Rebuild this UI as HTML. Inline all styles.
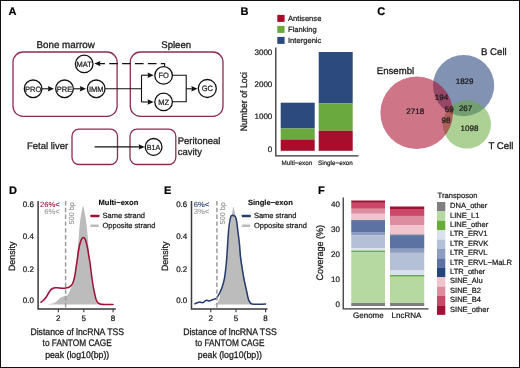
<!DOCTYPE html>
<html><head><meta charset="utf-8"><title>Figure</title>
<style>
html,body{margin:0;padding:0;background:#fff;}
svg{display:block;font-family:"Liberation Sans",sans-serif;text-rendering:geometricPrecision;will-change:transform;}
</style></head><body>
<svg width="520" height="368" viewBox="0 0 520 368">
<rect x="0" y="0" width="520" height="368" fill="#fff"/>
<text x="8.5" y="15.3" font-size="11" text-anchor="start" font-weight="bold" fill="#000" stroke="#000" stroke-width="0.2">A</text>
<text x="240.6" y="15.4" font-size="11" text-anchor="start" font-weight="bold" fill="#000" stroke="#000" stroke-width="0.2">B</text>
<text x="377.2" y="15.4" font-size="11" text-anchor="start" font-weight="bold" fill="#000" stroke="#000" stroke-width="0.2">C</text>
<text x="9" y="193.9" font-size="11" text-anchor="start" font-weight="bold" fill="#000" stroke="#000" stroke-width="0.2">D</text>
<text x="164.1" y="194.0" font-size="11" text-anchor="start" font-weight="bold" fill="#000" stroke="#000" stroke-width="0.2">E</text>
<text x="317.9" y="193.8" font-size="11" text-anchor="start" font-weight="bold" fill="#000" stroke="#000" stroke-width="0.2">F</text>
<text x="65.6" y="48" font-size="9.8" text-anchor="middle" fill="#1a1a1a" stroke="#1a1a1a" stroke-width="0.29">Bone marrow</text>
<text x="176.2" y="48" font-size="9.6" text-anchor="middle" fill="#1a1a1a" stroke="#1a1a1a" stroke-width="0.29">Spleen</text>
<rect x="13" y="52" width="104.10" height="64.30" rx="10" ry="10" fill="none" stroke="#8e2d4b" stroke-width="1.3"/>
<rect x="130.3" y="52" width="92.70" height="64.30" rx="10" ry="10" fill="none" stroke="#8e2d4b" stroke-width="1.3"/>
<rect x="72" y="129.2" width="45.50" height="35.30" rx="7" ry="7" fill="none" stroke="#8e2d4b" stroke-width="1.3"/>
<rect x="130" y="129.2" width="45.80" height="35.30" rx="7" ry="7" fill="none" stroke="#8e2d4b" stroke-width="1.3"/>
<path d="M105 88.8 L141.5 88.8" fill="none" stroke="#111" stroke-width="1.1"/>
<path d="M141.5 75.2 L141.5 102" fill="none" stroke="#111" stroke-width="1.1"/>
<path d="M141.5 75.2 L149 75.2" fill="none" stroke="#111" stroke-width="1.1"/>
<path d="M153.7 75.2 L147.5 72.5 L148.244 75.2 L147.5 77.9 Z" fill="#111"/>
<path d="M141.5 102 L149 102" fill="none" stroke="#111" stroke-width="1.1"/>
<path d="M153.7 102 L147.5 99.3 L148.244 102 L147.5 104.7 Z" fill="#111"/>
<path d="M172 75.2 L186.2 75.2 L186.2 101.8 L172 101.8" fill="none" stroke="#111" stroke-width="1.1"/>
<path d="M186.2 88.8 L193 88.8" fill="none" stroke="#111" stroke-width="1.1"/>
<path d="M197.5 88.8 L191.3 86.1 L192.044 88.8 L191.3 91.5 Z" fill="#111"/>
<path d="M42 88.8 L49 88.8" fill="none" stroke="#111" stroke-width="1.1"/>
<path d="M54 88.8 L47.8 86.1 L48.544 88.8 L47.8 91.5 Z" fill="#111"/>
<path d="M73.5 88.8 L81 88.8" fill="none" stroke="#111" stroke-width="1.1"/>
<path d="M86 88.8 L79.8 86.1 L80.544 88.8 L79.8 91.5 Z" fill="#111"/>
<path d="M164.6 66 L164.6 63.6 L99 63.6" fill="none" stroke="#111" stroke-width="1.1" stroke-dasharray="8.6 4.3" stroke-dashoffset="2.4"/>
<path d="M94.3 63.6 L100.5 60.9 L99.756 63.6 L100.5 66.3 Z" fill="#111"/>
<path d="M94.6 146.9 L140 146.9" fill="none" stroke="#111" stroke-width="1.1"/>
<path d="M144.8 146.9 L138.60000000000002 144.20000000000002 L139.34400000000002 146.9 L138.60000000000002 149.6 Z" fill="#111"/>
<circle cx="84.2" cy="63.9" r="8.8" fill="#fff" stroke="#111" stroke-width="1.3"/>
<text x="0" y="0" transform="translate(84.2 66.708) scale(0.96 1)" font-size="7.8" text-anchor="middle" fill="#222" stroke="#222" stroke-width="0.23">MAT</text>
<circle cx="33.1" cy="88.8" r="8.8" fill="#fff" stroke="#111" stroke-width="1.3"/>
<text x="0" y="0" transform="translate(33.1 91.608) scale(0.96 1)" font-size="7.8" text-anchor="middle" fill="#222" stroke="#222" stroke-width="0.23">PRO</text>
<circle cx="64.5" cy="88.8" r="8.8" fill="#fff" stroke="#111" stroke-width="1.3"/>
<text x="0" y="0" transform="translate(64.5 91.608) scale(0.96 1)" font-size="7.8" text-anchor="middle" fill="#222" stroke="#222" stroke-width="0.23">PRE</text>
<circle cx="96.2" cy="88.8" r="8.8" fill="#fff" stroke="#111" stroke-width="1.3"/>
<text x="0" y="0" transform="translate(96.2 91.608) scale(0.96 1)" font-size="7.8" text-anchor="middle" fill="#222" stroke="#222" stroke-width="0.23">IMM</text>
<circle cx="163.6" cy="75.4" r="8.8" fill="#fff" stroke="#111" stroke-width="1.3"/>
<text x="0" y="0" transform="translate(163.6 78.208) scale(0.96 1)" font-size="7.8" text-anchor="middle" fill="#222" stroke="#222" stroke-width="0.23">FO</text>
<circle cx="163.6" cy="101.9" r="8.8" fill="#fff" stroke="#111" stroke-width="1.3"/>
<text x="0" y="0" transform="translate(163.6 104.708) scale(0.96 1)" font-size="7.8" text-anchor="middle" fill="#222" stroke="#222" stroke-width="0.23">MZ</text>
<circle cx="207.3" cy="88.5" r="9" fill="#fff" stroke="#111" stroke-width="1.3"/>
<text x="0" y="0" transform="translate(207.3 91.30799999999999) scale(0.96 1)" font-size="7.8" text-anchor="middle" fill="#222" stroke="#222" stroke-width="0.23">GC</text>
<circle cx="153.6" cy="146.9" r="8.4" fill="#fff" stroke="#111" stroke-width="1.3"/>
<text x="0" y="0" transform="translate(153.6 149.528) scale(0.98 1)" font-size="7.3" text-anchor="middle" fill="#222" stroke="#222" stroke-width="0.22">B1A</text>
<text x="27" y="149.4" font-size="9.5" text-anchor="start" fill="#1a1a1a" stroke="#1a1a1a" stroke-width="0.28">Fetal liver</text>
<text x="177.7" y="143.6" font-size="9.5" text-anchor="start" fill="#1a1a1a" stroke="#1a1a1a" stroke-width="0.28">Peritoneal</text>
<text x="177.7" y="154.6" font-size="9.5" text-anchor="start" fill="#1a1a1a" stroke="#1a1a1a" stroke-width="0.28">cavity</text>
<rect x="277.3" y="14.90" width="7.3" height="7" fill="#a80d2c"/>
<text x="288" y="21" font-size="7.6" text-anchor="start" fill="#1a1a1a" stroke="#1a1a1a" stroke-width="0.23">Antisense</text>
<rect x="277.3" y="25.90" width="7.3" height="7" fill="#69a93e"/>
<text x="288" y="32" font-size="7.6" text-anchor="start" fill="#1a1a1a" stroke="#1a1a1a" stroke-width="0.23">Flanking</text>
<rect x="277.3" y="36.90" width="7.3" height="7" fill="#2d4a7e"/>
<text x="288" y="43" font-size="7.6" text-anchor="start" fill="#1a1a1a" stroke="#1a1a1a" stroke-width="0.23">Intergenic</text>
<rect x="280.7" y="102.7" width="34.00" height="25.80" fill="#2d4a7e"/>
<rect x="280.7" y="128.5" width="34.00" height="11.00" fill="#69a93e"/>
<rect x="280.7" y="139.5" width="34.00" height="11.30" fill="#a80d2c"/>
<rect x="318.7" y="52" width="34.00" height="51.20" fill="#2d4a7e"/>
<rect x="318.7" y="103.2" width="34.00" height="27.60" fill="#69a93e"/>
<rect x="318.7" y="130.8" width="34.00" height="20.00" fill="#a80d2c"/>
<path d="M275.8 47.5 L275.8 155.9 L358.5 155.9" fill="none" stroke="#333" stroke-width="1.3"/>
<text x="272.3" y="152.35" font-size="8" text-anchor="end" fill="#1a1a1a" stroke="#1a1a1a" stroke-width="0.24">0</text>
<text x="272.3" y="119.44999999999999" font-size="8" text-anchor="end" fill="#1a1a1a" stroke="#1a1a1a" stroke-width="0.24">1000</text>
<text x="272.3" y="87.35" font-size="8" text-anchor="end" fill="#1a1a1a" stroke="#1a1a1a" stroke-width="0.24">2000</text>
<text x="272.3" y="54.85" font-size="8" text-anchor="end" fill="#1a1a1a" stroke="#1a1a1a" stroke-width="0.24">3000</text>
<text x="296.9" y="164.5" font-size="6.3" text-anchor="middle" fill="#1a1a1a" stroke="#1a1a1a" stroke-width="0.19">Multi−exon</text>
<text x="335.4" y="164.5" font-size="6.3" text-anchor="middle" fill="#1a1a1a" stroke="#1a1a1a" stroke-width="0.19">Single−exon</text>
<text x="0" y="0" transform="translate(247 101.7) rotate(-90) scale(0.92 1)" font-size="9.5" text-anchor="middle" fill="#1a1a1a" stroke="#1a1a1a" stroke-width="0.28">Number of Loci</text>
<circle cx="463.6" cy="85.6" r="30.6" fill="#2d4a7e" fill-opacity="0.6"/>
<circle cx="466.9" cy="124.4" r="24.1" fill="#69a93e" fill-opacity="0.55"/>
<circle cx="416.7" cy="112.8" r="36.3" fill="#a80d2c" fill-opacity="0.57"/>
<text x="376.8" y="74.1" font-size="9.6" text-anchor="start" fill="#1a1a1a" stroke="#1a1a1a" stroke-width="0.29">Ensembl</text>
<text x="480.9" y="55.3" font-size="9.7" text-anchor="start" fill="#1a1a1a" stroke="#1a1a1a" stroke-width="0.29">B Cell</text>
<text x="488.4" y="148.5" font-size="9.7" text-anchor="start" fill="#1a1a1a" stroke="#1a1a1a" stroke-width="0.29">T Cell</text>
<text x="415.2" y="113.64999999999999" font-size="8" text-anchor="middle" fill="#1a1a1a" stroke="#1a1a1a" stroke-width="0.24">2718</text>
<text x="464.6" y="84.25" font-size="8" text-anchor="middle" fill="#1a1a1a" stroke="#1a1a1a" stroke-width="0.24">1829</text>
<text x="441.5" y="99.55" font-size="8" text-anchor="middle" fill="#1a1a1a" stroke="#1a1a1a" stroke-width="0.24">194</text>
<text x="449.3" y="112.25" font-size="8" text-anchor="middle" fill="#1a1a1a" stroke="#1a1a1a" stroke-width="0.24">59</text>
<text x="465.6" y="111.25" font-size="8" text-anchor="middle" fill="#1a1a1a" stroke="#1a1a1a" stroke-width="0.24">267</text>
<text x="446" y="122.94999999999999" font-size="8" text-anchor="middle" fill="#1a1a1a" stroke="#1a1a1a" stroke-width="0.24">98</text>
<text x="469.5" y="130.85" font-size="8" text-anchor="middle" fill="#1a1a1a" stroke="#1a1a1a" stroke-width="0.24">1098</text>
<path d="M48.00 304.50 C48.67 304.35 50.82 303.95 52.00 303.60 C53.18 303.25 54.18 302.90 55.10 302.40 C56.02 301.90 56.77 301.23 57.50 300.60 C58.23 299.97 58.83 299.17 59.50 298.60 C60.17 298.03 60.78 297.57 61.50 297.20 C62.22 296.83 63.05 296.63 63.80 296.40 C64.55 296.17 65.33 296.07 66.00 295.80 C66.67 295.53 67.15 295.65 67.80 294.80 C68.45 293.95 69.23 292.25 69.90 290.70 C70.57 289.15 71.22 287.28 71.80 285.50 C72.38 283.72 72.87 282.25 73.40 280.00 C73.93 277.75 74.53 274.75 75.00 272.00 C75.47 269.25 75.77 267.17 76.20 263.50 C76.63 259.83 77.17 254.58 77.60 250.00 C78.03 245.42 78.50 239.67 78.80 236.00 C79.10 232.33 79.12 230.92 79.40 228.00 C79.68 225.08 80.10 221.33 80.50 218.50 C80.90 215.67 81.37 213.08 81.80 211.00 C82.23 208.92 82.67 206.00 83.10 206.00 C83.53 206.00 83.97 208.92 84.40 211.00 C84.83 213.08 85.28 215.67 85.70 218.50 C86.12 221.33 86.52 224.42 86.90 228.00 C87.28 231.58 87.65 235.50 88.00 240.00 C88.35 244.50 88.68 250.67 89.00 255.00 C89.32 259.33 89.53 262.33 89.90 266.00 C90.27 269.67 90.77 273.75 91.20 277.00 C91.63 280.25 92.07 282.83 92.50 285.50 C92.93 288.17 93.37 290.75 93.80 293.00 C94.23 295.25 94.70 297.42 95.10 299.00 C95.50 300.58 95.80 301.63 96.20 302.50 C96.60 303.37 97.03 303.87 97.50 304.20 C97.97 304.53 98.75 304.45 99.00 304.50 L99.00 304.6 L48.00 304.6 Z" fill="#bcbcbc"/>
<path d="M41.00 302.20 C41.42 301.88 42.60 301.20 43.50 300.30 C44.40 299.40 45.55 298.02 46.40 296.80 C47.25 295.58 47.87 294.15 48.60 293.00 C49.33 291.85 50.07 290.68 50.80 289.90 C51.53 289.12 52.28 288.67 53.00 288.30 C53.72 287.93 54.35 287.78 55.10 287.70 C55.85 287.62 56.77 287.75 57.50 287.80 C58.23 287.85 58.75 287.92 59.50 288.00 C60.25 288.08 61.17 288.27 62.00 288.30 C62.83 288.33 63.67 288.28 64.50 288.20 C65.33 288.12 66.25 287.97 67.00 287.80 C67.75 287.63 68.33 287.53 69.00 287.20 C69.67 286.87 70.37 286.50 71.00 285.80 C71.63 285.10 72.27 284.20 72.80 283.00 C73.33 281.80 73.78 280.27 74.20 278.60 C74.62 276.93 74.97 275.02 75.30 273.00 C75.63 270.98 75.88 268.67 76.20 266.50 C76.52 264.33 76.80 262.75 77.20 260.00 C77.60 257.25 78.15 252.67 78.60 250.00 C79.05 247.33 79.42 245.78 79.90 244.00 C80.38 242.22 80.92 240.40 81.50 239.30 C82.08 238.20 82.78 237.40 83.40 237.40 C84.02 237.40 84.67 238.20 85.20 239.30 C85.73 240.40 86.15 242.22 86.60 244.00 C87.05 245.78 87.50 247.83 87.90 250.00 C88.30 252.17 88.67 255.00 89.00 257.00 C89.33 259.00 89.58 259.83 89.90 262.00 C90.22 264.17 90.52 267.00 90.90 270.00 C91.28 273.00 91.78 277.08 92.20 280.00 C92.62 282.92 92.98 285.17 93.40 287.50 C93.82 289.83 94.28 292.08 94.70 294.00 C95.12 295.92 95.48 297.67 95.90 299.00 C96.32 300.33 96.72 301.25 97.20 302.00 C97.68 302.75 98.17 303.13 98.80 303.50 C99.43 303.87 99.97 304.05 101.00 304.20 C102.03 304.35 103.00 304.37 105.00 304.40 C107.00 304.43 111.67 304.40 113.00 304.40" fill="none" stroke="#9c1238" stroke-width="1.55" stroke-linejoin="round" stroke-linecap="round"/>
<path d="M65.6 201 L65.6 309" fill="none" stroke="#9c9c9c" stroke-width="1.5" stroke-dasharray="4.4 2.4"/>
<text x="0" y="0" transform="translate(73.8 202.3) rotate(-90)" font-size="7.2" text-anchor="end" fill="#8a8a8a" stroke="#8a8a8a" stroke-width="0.09">500 bp</text>
<path d="M38.1 201 L38.1 308.9 L115.8 308.9" fill="none" stroke="#3a3a3a" stroke-width="1.5"/>
<path d="M58.3 308.9 L58.3 312.3" fill="none" stroke="#3a3a3a" stroke-width="1.1"/>
<path d="M83.8 308.9 L83.8 312.3" fill="none" stroke="#3a3a3a" stroke-width="1.1"/>
<path d="M113.1 308.9 L113.1 312.3" fill="none" stroke="#3a3a3a" stroke-width="1.1"/>
<text x="33.9" y="303.15000000000003" font-size="8" text-anchor="end" fill="#1a1a1a" stroke="#1a1a1a" stroke-width="0.24">0.0</text>
<text x="33.9" y="271.55" font-size="8" text-anchor="end" fill="#1a1a1a" stroke="#1a1a1a" stroke-width="0.24">0.2</text>
<text x="33.9" y="239.45" font-size="8" text-anchor="end" fill="#1a1a1a" stroke="#1a1a1a" stroke-width="0.24">0.4</text>
<text x="33.9" y="207.45" font-size="8" text-anchor="end" fill="#1a1a1a" stroke="#1a1a1a" stroke-width="0.24">0.6</text>
<text x="58.3" y="321" font-size="8" text-anchor="middle" fill="#1a1a1a" stroke="#1a1a1a" stroke-width="0.24">2</text>
<text x="83.8" y="321" font-size="8" text-anchor="middle" fill="#1a1a1a" stroke="#1a1a1a" stroke-width="0.24">5</text>
<text x="113.1" y="321" font-size="8" text-anchor="middle" fill="#1a1a1a" stroke="#1a1a1a" stroke-width="0.24">8</text>
<text x="59.7" y="206.7" font-size="7.6" text-anchor="end" fill="#9c1238" stroke="#9c1238" stroke-width="0.09">26%&lt;</text>
<text x="59.7" y="214.2" font-size="7.6" text-anchor="end" fill="#9a9a9a" stroke="#9a9a9a" stroke-width="0.09">6%&lt;</text>
<text x="98.5" y="205.3" font-size="7.6" text-anchor="start" font-weight="bold" fill="#111" stroke="#111" stroke-width="0.14">Multi−exon</text>
<rect x="90.40" y="214.7" width="9.0" height="2.6" rx="0.6" fill="#9c1238"/>
<rect x="90.40" y="224.6" width="8.4" height="2.5" rx="0.6" fill="#bcbcbc"/>
<text x="102.5" y="218.2" font-size="7.5" text-anchor="start" fill="#1a1a1a" stroke="#1a1a1a" stroke-width="0.22">Same strand</text>
<text x="102.5" y="228.3" font-size="7.5" text-anchor="start" fill="#1a1a1a" stroke="#1a1a1a" stroke-width="0.22">Opposite strand</text>
<text x="0" y="0" transform="translate(14.700000000000003 256.3) rotate(-90) scale(0.97 1)" font-size="9.1" text-anchor="middle" fill="#1a1a1a" stroke="#1a1a1a" stroke-width="0.27">Density</text>
<text x="0" y="0" transform="translate(77.2 335.3) scale(0.91 1)" font-size="9.5" text-anchor="middle" fill="#1a1a1a" stroke="#1a1a1a" stroke-width="0.28">Distance of lncRNA TSS</text>
<text x="0" y="0" transform="translate(77.2 346.4) scale(0.87 1)" font-size="9.5" text-anchor="middle" fill="#1a1a1a" stroke="#1a1a1a" stroke-width="0.28">to FANTOM CAGE</text>
<text x="0" y="0" transform="translate(77.2 358.0) scale(0.92 1)" font-size="9.5" text-anchor="middle" fill="#1a1a1a" stroke="#1a1a1a" stroke-width="0.28">peak (log10(bp))</text>
<path d="M214.00 304.40 C214.33 304.27 215.22 304.28 216.00 303.60 C216.78 302.92 217.95 302.00 218.70 300.30 C219.45 298.60 219.88 295.57 220.50 293.40 C221.12 291.23 221.70 289.77 222.40 287.30 C223.10 284.83 224.12 281.50 224.70 278.60 C225.28 275.70 225.55 272.80 225.90 269.90 C226.25 267.00 226.48 264.83 226.80 261.20 C227.12 257.57 227.43 252.80 227.80 248.10 C228.17 243.40 228.58 236.77 229.00 233.00 C229.42 229.23 229.85 228.48 230.30 225.50 C230.75 222.52 231.30 217.70 231.70 215.10 C232.10 212.50 232.42 211.28 232.70 209.90 C232.98 208.52 233.13 206.80 233.40 206.80 C233.67 206.80 233.95 208.52 234.30 209.90 C234.65 211.28 235.07 212.50 235.50 215.10 C235.93 217.70 236.32 221.15 236.90 225.50 C237.48 229.85 238.38 236.45 239.00 241.20 C239.62 245.95 240.08 250.08 240.60 254.00 C241.12 257.92 241.47 260.60 242.10 264.70 C242.73 268.80 243.58 274.27 244.40 278.60 C245.22 282.93 246.23 287.23 247.00 290.70 C247.77 294.17 248.33 297.27 249.00 299.40 C249.67 301.53 250.42 302.67 251.00 303.50 C251.58 304.33 252.25 304.25 252.50 304.40 L252.50 304.5 L214.00 304.5 Z" fill="#bcbcbc"/>
<path d="M194.90 303.80 C195.30 303.63 196.52 303.10 197.30 302.80 C198.08 302.50 198.93 302.05 199.60 302.00 C200.27 301.95 200.73 302.40 201.30 302.50 C201.87 302.60 202.42 302.80 203.00 302.60 C203.58 302.40 204.22 301.68 204.80 301.30 C205.38 300.92 205.92 300.38 206.50 300.30 C207.08 300.22 207.72 300.72 208.30 300.80 C208.88 300.88 209.42 300.93 210.00 300.80 C210.58 300.67 211.22 300.23 211.80 300.00 C212.38 299.77 212.92 299.60 213.50 299.40 C214.08 299.20 214.73 299.08 215.30 298.80 C215.87 298.52 216.20 298.60 216.90 297.70 C217.60 296.80 218.63 295.13 219.50 293.40 C220.37 291.67 221.28 289.77 222.10 287.30 C222.92 284.83 223.82 281.50 224.40 278.60 C224.98 275.70 225.25 272.80 225.60 269.90 C225.95 267.00 226.20 264.83 226.50 261.20 C226.80 257.57 227.05 253.18 227.40 248.10 C227.75 243.02 228.20 235.13 228.60 230.70 C229.00 226.27 229.47 223.68 229.80 221.50 C230.13 219.32 230.35 218.55 230.60 217.60 C230.85 216.65 231.02 216.17 231.30 215.80 C231.58 215.43 231.95 215.45 232.30 215.40 C232.65 215.35 233.03 215.40 233.40 215.50 C233.77 215.60 234.15 215.75 234.50 216.00 C234.85 216.25 235.20 216.42 235.50 217.00 C235.80 217.58 236.07 218.50 236.30 219.50 C236.53 220.50 236.65 221.13 236.90 223.00 C237.15 224.87 237.37 227.10 237.80 230.70 C238.23 234.30 239.07 240.38 239.50 244.60 C239.93 248.82 240.05 252.65 240.40 256.00 C240.75 259.35 241.02 260.93 241.60 264.70 C242.18 268.47 243.08 274.27 243.90 278.60 C244.72 282.93 245.73 287.23 246.50 290.70 C247.27 294.17 247.78 297.30 248.50 299.40 C249.22 301.50 249.83 302.48 250.80 303.30 C251.77 304.12 252.77 304.15 254.30 304.30 C255.83 304.45 258.12 304.23 260.00 304.20 C261.88 304.17 264.67 304.12 265.60 304.10" fill="none" stroke="#263c6c" stroke-width="1.55" stroke-linejoin="round" stroke-linecap="round"/>
<path d="M216.9 201 L216.9 309" fill="none" stroke="#9c9c9c" stroke-width="1.5" stroke-dasharray="4.4 2.4"/>
<text x="0" y="0" transform="translate(225.1 202.3) rotate(-90)" font-size="7.2" text-anchor="end" fill="#8a8a8a" stroke="#8a8a8a" stroke-width="0.09">500 bp</text>
<path d="M191.5 201 L191.5 308.9 L267.5 308.9" fill="none" stroke="#3a3a3a" stroke-width="1.5"/>
<path d="M210.8 308.9 L210.8 312.3" fill="none" stroke="#3a3a3a" stroke-width="1.1"/>
<path d="M236 308.9 L236 312.3" fill="none" stroke="#3a3a3a" stroke-width="1.1"/>
<path d="M265.6 308.9 L265.6 312.3" fill="none" stroke="#3a3a3a" stroke-width="1.1"/>
<text x="187.3" y="303.15000000000003" font-size="8" text-anchor="end" fill="#1a1a1a" stroke="#1a1a1a" stroke-width="0.24">0.0</text>
<text x="187.3" y="271.55" font-size="8" text-anchor="end" fill="#1a1a1a" stroke="#1a1a1a" stroke-width="0.24">0.2</text>
<text x="187.3" y="239.45" font-size="8" text-anchor="end" fill="#1a1a1a" stroke="#1a1a1a" stroke-width="0.24">0.4</text>
<text x="187.3" y="207.45" font-size="8" text-anchor="end" fill="#1a1a1a" stroke="#1a1a1a" stroke-width="0.24">0.6</text>
<text x="210.8" y="321" font-size="8" text-anchor="middle" fill="#1a1a1a" stroke="#1a1a1a" stroke-width="0.24">2</text>
<text x="236" y="321" font-size="8" text-anchor="middle" fill="#1a1a1a" stroke="#1a1a1a" stroke-width="0.24">5</text>
<text x="265.6" y="321" font-size="8" text-anchor="middle" fill="#1a1a1a" stroke="#1a1a1a" stroke-width="0.24">8</text>
<text x="209.2" y="206.7" font-size="7.6" text-anchor="end" fill="#263c6c" stroke="#263c6c" stroke-width="0.09">6%&lt;</text>
<text x="209.2" y="214.2" font-size="7.6" text-anchor="end" fill="#9a9a9a" stroke="#9a9a9a" stroke-width="0.09">3%&lt;</text>
<text x="247.9" y="205.3" font-size="7.6" text-anchor="start" font-weight="bold" fill="#111" stroke="#111" stroke-width="0.14">Single−exon</text>
<rect x="241.80" y="214.7" width="9.0" height="2.6" rx="0.6" fill="#263c6c"/>
<rect x="241.80" y="224.6" width="8.4" height="2.5" rx="0.6" fill="#bcbcbc"/>
<text x="253.9" y="218.2" font-size="7.5" text-anchor="start" fill="#1a1a1a" stroke="#1a1a1a" stroke-width="0.22">Same strand</text>
<text x="253.9" y="228.3" font-size="7.5" text-anchor="start" fill="#1a1a1a" stroke="#1a1a1a" stroke-width="0.22">Opposite strand</text>
<text x="0" y="0" transform="translate(168.1 256.3) rotate(-90) scale(0.97 1)" font-size="9.1" text-anchor="middle" fill="#1a1a1a" stroke="#1a1a1a" stroke-width="0.27">Density</text>
<text x="0" y="0" transform="translate(229.9 335.3) scale(0.91 1)" font-size="9.5" text-anchor="middle" fill="#1a1a1a" stroke="#1a1a1a" stroke-width="0.28">Distance of lncRNA TSS</text>
<text x="0" y="0" transform="translate(229.9 346.4) scale(0.87 1)" font-size="9.5" text-anchor="middle" fill="#1a1a1a" stroke="#1a1a1a" stroke-width="0.28">to FANTOM CAGE</text>
<text x="0" y="0" transform="translate(229.9 358.0) scale(0.92 1)" font-size="9.5" text-anchor="middle" fill="#1a1a1a" stroke="#1a1a1a" stroke-width="0.28">peak (log10(bp))</text>
<text x="437.6" y="197.5" font-size="7.6" text-anchor="start" fill="#1a1a1a" stroke="#1a1a1a" stroke-width="0.23">Transposon</text>
<rect x="437" y="202.00" width="8.3" height="9.45" fill="#7f7f7f"/>
<text x="450" y="208.2" font-size="7.55" text-anchor="start" fill="#1a1a1a" stroke="#1a1a1a" stroke-width="0.23">DNA_other</text>
<rect x="437" y="211.40" width="8.3" height="9.45" fill="#b5d9a1"/>
<text x="450" y="217.60999999999999" font-size="7.55" text-anchor="start" fill="#1a1a1a" stroke="#1a1a1a" stroke-width="0.23">LINE_L1</text>
<rect x="437" y="220.80" width="8.3" height="9.45" fill="#68ad3a"/>
<text x="450" y="227.01999999999998" font-size="7.55" text-anchor="start" fill="#1a1a1a" stroke="#1a1a1a" stroke-width="0.23">LINE_other</text>
<rect x="437" y="230.20" width="8.3" height="9.45" fill="#dbe2ee"/>
<text x="450" y="236.42999999999998" font-size="7.55" text-anchor="start" fill="#1a1a1a" stroke="#1a1a1a" stroke-width="0.23">LTR_ERV1</text>
<rect x="437" y="239.60" width="8.3" height="9.45" fill="#b4c0d6"/>
<text x="450" y="245.83999999999997" font-size="7.55" text-anchor="start" fill="#1a1a1a" stroke="#1a1a1a" stroke-width="0.23">LTR_ERVK</text>
<rect x="437" y="249.00" width="8.3" height="9.45" fill="#8c9dc0"/>
<text x="450" y="255.25" font-size="7.55" text-anchor="start" fill="#1a1a1a" stroke="#1a1a1a" stroke-width="0.23">LTR_ERVL</text>
<rect x="437" y="258.40" width="8.3" height="9.45" fill="#5b72a3"/>
<text x="450" y="264.65999999999997" font-size="7.55" text-anchor="start" fill="#1a1a1a" stroke="#1a1a1a" stroke-width="0.23">LTR_ERVL−MaLR</text>
<rect x="437" y="267.80" width="8.3" height="9.45" fill="#24457c"/>
<text x="450" y="274.07" font-size="7.55" text-anchor="start" fill="#1a1a1a" stroke="#1a1a1a" stroke-width="0.23">LTR_other</text>
<rect x="437" y="277.20" width="8.3" height="9.45" fill="#f0c4cd"/>
<text x="450" y="283.48" font-size="7.55" text-anchor="start" fill="#1a1a1a" stroke="#1a1a1a" stroke-width="0.23">SINE_Alu</text>
<rect x="437" y="286.60" width="8.3" height="9.45" fill="#de8ca0"/>
<text x="450" y="292.89" font-size="7.55" text-anchor="start" fill="#1a1a1a" stroke="#1a1a1a" stroke-width="0.23">SINE_B2</text>
<rect x="437" y="296.00" width="8.3" height="9.45" fill="#c94a68"/>
<text x="450" y="302.29999999999995" font-size="7.55" text-anchor="start" fill="#1a1a1a" stroke="#1a1a1a" stroke-width="0.23">SINE_B4</text>
<rect x="437" y="305.40" width="8.3" height="9.45" fill="#a50f35"/>
<text x="450" y="311.71" font-size="7.55" text-anchor="start" fill="#1a1a1a" stroke="#1a1a1a" stroke-width="0.23">SINE_other</text>
<rect x="351.25" y="200.5" width="33.75" height="2.35" fill="#a50f35"/>
<rect x="351.25" y="202.8" width="33.75" height="6.00" fill="#c94a68"/>
<rect x="351.25" y="208.75" width="33.75" height="5.05" fill="#de8ca0"/>
<rect x="351.25" y="213.75" width="33.75" height="6.50" fill="#f0c4cd"/>
<rect x="351.25" y="220.2" width="33.75" height="0.65" fill="#24457c"/>
<rect x="351.25" y="220.8" width="33.75" height="11.25" fill="#5b72a3"/>
<rect x="351.25" y="232" width="33.75" height="3.25" fill="#8c9dc0"/>
<rect x="351.25" y="235.2" width="33.75" height="13.05" fill="#b4c0d6"/>
<rect x="351.25" y="248.2" width="33.75" height="2.45" fill="#dbe2ee"/>
<rect x="351.25" y="250.6" width="33.75" height="1.55" fill="#68ad3a"/>
<rect x="351.25" y="252.1" width="33.75" height="50.95" fill="#b5d9a1"/>
<rect x="351.25" y="303" width="33.75" height="3.05" fill="#7f7f7f"/>
<rect x="390" y="206.5" width="34.25" height="2.55" fill="#a50f35"/>
<rect x="390" y="209.0" width="34.25" height="6.95" fill="#c94a68"/>
<rect x="390" y="215.9" width="34.25" height="9.15" fill="#de8ca0"/>
<rect x="390" y="225.0" width="34.25" height="9.75" fill="#f0c4cd"/>
<rect x="390" y="234.7" width="34.25" height="0.85" fill="#24457c"/>
<rect x="390" y="235.5" width="34.25" height="13.25" fill="#5b72a3"/>
<rect x="390" y="248.7" width="34.25" height="4.15" fill="#8c9dc0"/>
<rect x="390" y="252.8" width="34.25" height="17.75" fill="#b4c0d6"/>
<rect x="390" y="270.5" width="34.25" height="4.55" fill="#dbe2ee"/>
<rect x="390" y="275" width="34.25" height="1.80" fill="#68ad3a"/>
<rect x="390" y="276.75" width="34.25" height="26.30" fill="#b5d9a1"/>
<rect x="390" y="303" width="34.25" height="3.05" fill="#7f7f7f"/>
<path d="M343.25 197.5 L343.25 308.8 L428.5 308.8" fill="none" stroke="#3a3a3a" stroke-width="1.3"/>
<text x="340" y="307.35" font-size="8" text-anchor="end" fill="#1a1a1a" stroke="#1a1a1a" stroke-width="0.24">0</text>
<text x="340" y="282.25" font-size="8" text-anchor="end" fill="#1a1a1a" stroke="#1a1a1a" stroke-width="0.24">10</text>
<text x="340" y="256.85" font-size="8" text-anchor="end" fill="#1a1a1a" stroke="#1a1a1a" stroke-width="0.24">20</text>
<text x="340" y="232.1" font-size="8" text-anchor="end" fill="#1a1a1a" stroke="#1a1a1a" stroke-width="0.24">30</text>
<text x="340" y="207.35" font-size="8" text-anchor="end" fill="#1a1a1a" stroke="#1a1a1a" stroke-width="0.24">40</text>
<text x="368.4" y="318" font-size="8" text-anchor="middle" fill="#1a1a1a" stroke="#1a1a1a" stroke-width="0.24">Genome</text>
<text x="406.5" y="318" font-size="8" text-anchor="middle" fill="#1a1a1a" stroke="#1a1a1a" stroke-width="0.24">LncRNA</text>
<text x="0" y="0" transform="translate(323.2 252.8) rotate(-90) scale(0.945 1)" font-size="9.5" text-anchor="middle" fill="#1a1a1a" stroke="#1a1a1a" stroke-width="0.28">Coverage (%)</text>
<rect x="0.5" y="0.5" width="519" height="367" fill="none" stroke="#111" stroke-width="1"/>
</svg>
</body></html>
